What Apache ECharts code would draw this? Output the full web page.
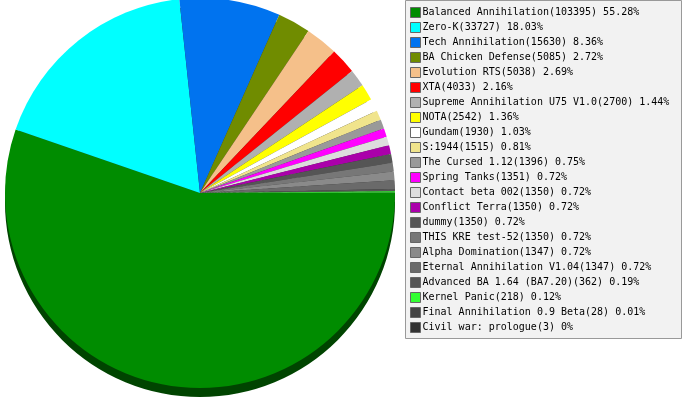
<!DOCTYPE html>
<html><head><meta charset="utf-8">
<script src="https://cdn.jsdelivr.net/npm/echarts@6/dist/echarts.min.js"></script>
<style>html,body{margin:0;padding:0;background:#fff}#c{width:683px;height:400px}</style>
</head><body><div id="c"></div>
<script>
const names = ["Balanced Annihilation","Zero-K","Tech Annihilation","BA Chicken Defense","Evolution RTS","XTA","Supreme Annihilation U75 V1.0","NOTA","Gundam","S:1944","The Cursed 1.12","Spring Tanks","Contact beta 002","Conflict Terra","dummy","THIS KRE test-52","Alpha Domination","Eternal Annihilation V1.04","Advanced BA 1.64 (BA7.20)","Kernel Panic","Final Annihilation 0.9 Beta","Civil war: prologue"];
const values = [103395,33727,15630,5085,5038,4033,2700,2542,1930,1515,1396,1351,1350,1350,1350,1350,1347,1347,362,218,28,3];
const percents = ["55.28","18.03","8.36","2.72","2.69","2.16","1.44","1.36","1.03","0.81","0.75","0.72","0.72","0.72","0.72","0.72","0.72","0.72","0.19","0.12","0.01","0"];
const colors = ["#008c00","#00ffff","#0073ef","#708c00","#f5c08a","#ff0000","#b0b0b0","#ffff00","#ffffff","#f0e48c","#999999","#ff00ff","#dddddd","#aa00aa","#555555","#777777","#8a8a8a","#6a6a6a","#555555","#33ff33","#444444","#333333"];

const chart = echarts.init(document.getElementById('c'), null, {renderer:'canvas'});
const data = names.map((n,i)=>({name:n, value:values[i], itemStyle:{color:colors[i]}}));
const shadowData = names.map((n,i)=>({name:n+'_s', value:values[i], itemStyle:{color:i===0?'#004400':'#333333'}}));
const lookup = {};
names.forEach((n,i)=>{lookup[n]=n+'('+values[i]+') '+percents[i]+'%';});

chart.setOption({
  animation:false,
  graphic:[{type:'rect', shape:{x:405.5,y:0.5,width:276,height:338}, style:{fill:'#f2f2f2', stroke:'#999999', lineWidth:1}, z:0}],
  legend:{
    orient:'vertical', left:405, top:7, padding:[0,0,0,5],
    itemWidth:10, itemHeight:10, itemGap:4, icon:'rect',
    data:names, selectedMode:false,
    itemStyle:{borderColor:'#666666', borderWidth:1},
    textStyle:{fontFamily:'DejaVu Sans Mono', fontSize:10, color:'#000', padding:[0,0,0,-3]},
    formatter:(n)=>lookup[n]
  },
  series:[
    {type:'pie', center:[200,202], radius:[0,195], startAngle:0, clockwise:true,
     silent:true, label:{show:false}, labelLine:{show:false}, data:shadowData, z:1, legendHoverLink:false},
    {type:'pie', center:[200,193], radius:[0,195], startAngle:0, clockwise:true,
     silent:true, label:{show:false}, labelLine:{show:false}, data:data, z:2,
     itemStyle:{borderWidth:0}}
  ]
});
</script></body></html>
